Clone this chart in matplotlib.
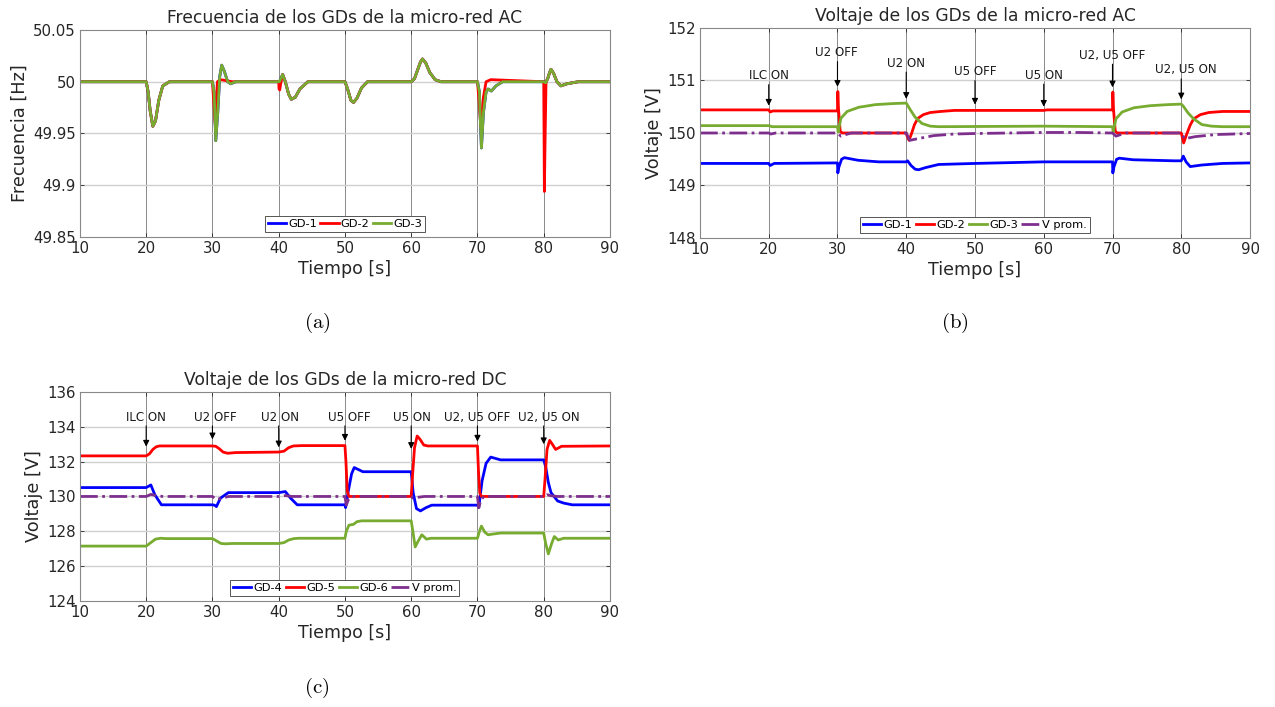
import numpy as np
import matplotlib
matplotlib.use('Agg')
import matplotlib.pyplot as plt

plt.rcParams['font.family'] = ['DejaVu Sans']
plt.rcParams['mathtext.fontset'] = 'cm'

##########################
# (a) Frecuencia micro-red AC
##########################
ta_gd3 = [10, 20, 20.3, 20.6, 21.0, 21.4, 21.9, 22.5, 23.5,
          30.0, 30.25, 30.5, 30.8, 31.1, 31.4, 31.8, 32.3, 32.75, 33.5,
          40.0, 40.1, 40.6, 41.0, 41.5, 41.9, 42.5, 43.2, 44.4,
          50.0, 50.4, 50.9, 51.3, 51.8, 52.5, 53.4,
          60.0, 60.5, 61.0, 61.4, 61.7, 62.2, 62.8, 63.6, 64.5,
          70.0, 70.3, 70.45, 70.6, 70.9, 71.3, 71.6, 72.1, 72.8, 73.8,
          80.0, 80.3, 80.6, 80.9, 81.1, 81.5, 82.0, 82.6, 83.5, 85.2, 90]
fa_gd3 = [50, 50, 49.99, 49.972, 49.957, 49.962, 49.982, 49.996, 50.0,
          50.0, 49.99, 49.943, 49.97, 50.005, 50.016, 50.01, 50.0, 49.998, 50.0,
          50.0, 50.0, 50.007, 50.0, 49.988, 49.983, 49.985, 49.993, 50.0,
          50.0, 49.993, 49.982, 49.980, 49.984, 49.994, 50.0,
          50.0, 50.003, 50.012, 50.019, 50.022, 50.018, 50.009, 50.002, 50.0,
          50.0, 49.99, 49.96, 49.936, 49.97, 49.99, 49.993, 49.991, 49.996, 50.0,
          50.0, 49.999, 50.003, 50.009, 50.012, 50.008, 50.0, 49.996, 49.998, 50.0, 50.0]
ta_gd1 = list(ta_gd3)
fa_gd1 = list(fa_gd3)
ta_gd2 = [10, 20, 20.3, 20.6, 21.0, 21.4, 21.9, 22.5, 23.5,
          30.0, 30.15, 30.4, 30.75, 31.2, 33.0,
          40.0, 40.05, 40.15, 40.3, 40.6, 41.0, 41.5, 41.9, 42.5, 43.2, 44.4,
          50.0, 50.4, 50.9, 51.3, 51.8, 52.5, 53.4,
          60.0, 60.5, 61.0, 61.4, 61.7, 62.2, 62.8, 63.6, 64.5,
          70.0, 70.2, 70.5, 70.9, 71.3, 72.0,
          80.0, 80.05, 80.1, 80.2, 80.35, 80.6, 80.9, 81.1, 81.5, 82.0, 82.6, 83.5, 85.2, 90]
fa_gd2 = [50, 50, 49.99, 49.972, 49.957, 49.962, 49.982, 49.996, 50.0,
          50.0, 49.985, 49.960, 50.0, 50.002, 50.0,
          50.0, 49.993, 49.992, 49.998, 50.007, 50.0, 49.988, 49.983, 49.985, 49.993, 50.0,
          50.0, 49.993, 49.982, 49.980, 49.984, 49.994, 50.0,
          50.0, 50.003, 50.012, 50.019, 50.022, 50.018, 50.009, 50.002, 50.0,
          50.0, 49.985, 49.957, 49.985, 50.0, 50.002,
          50.0, 49.95, 49.894, 49.94, 50.0, 50.003, 50.009, 50.012, 50.008, 50.0, 49.996, 49.998, 50.0, 50.0]

##########################
# (b) Voltaje micro-red AC
##########################
tb_gd1 = [10, 20, 20.2, 20.8, 30.0, 30.05, 30.2, 30.6, 31.0, 33.0, 36.0, 40.0, 40.2, 40.7, 41.3, 41.8,
          42.8, 44.7, 50.0, 60.0, 70.0, 70.05, 70.2, 70.6, 71.0, 73.0, 79.0, 80.0, 80.3, 80.7, 81.3, 83.0, 86.0, 90]
vb_gd1 = [149.42, 149.42, 149.38, 149.42, 149.43, 149.24, 149.35, 149.50, 149.53, 149.48, 149.45, 149.45, 149.47,
          149.38, 149.31, 149.30, 149.34, 149.40, 149.42, 149.45, 149.45, 149.24, 149.35, 149.50, 149.52, 149.49,
          149.47, 149.47, 149.56, 149.45, 149.36, 149.39, 149.42, 149.43]
tb_gd2 = [10, 20, 20.2, 20.6, 30.0, 30.05, 30.15, 30.4, 30.7, 40.0, 40.1, 40.4, 40.8, 41.2, 41.7, 42.5, 43.5,
          45.0, 47.0, 50.0, 60.0, 60.5, 70.0, 70.05, 70.15, 70.4, 70.7, 80.0, 80.1, 80.35, 80.8, 81.3, 81.8,
          82.8, 84.0, 86.0, 90]
vb_gd2 = [150.44, 150.44, 150.40, 150.42, 150.42, 150.79, 150.45, 150.03, 150.0, 150.0, 149.95, 149.86, 150.0,
          150.16, 150.28, 150.35, 150.39, 150.41, 150.43, 150.43, 150.43, 150.44, 150.44, 150.78, 150.45,
          150.03, 150.0, 150.0, 149.95, 149.81, 149.98, 150.15, 150.27, 150.35, 150.39, 150.41, 150.41]
tb_gd3 = [10, 20, 20.5, 30.0, 30.1, 30.5, 31.4, 33.1, 35.5, 38.0, 40.0, 40.6, 41.3, 42.3, 43.5, 44.7, 60.0,
          70.0, 70.1, 70.5, 71.4, 73.1, 75.5, 78.0, 80.0, 80.3, 81.0, 81.8, 83.0, 84.4, 86.0, 90]
vb_gd3 = [150.14, 150.14, 150.12, 150.12, 150.02, 150.28, 150.41, 150.49, 150.54, 150.56, 150.57, 150.44,
          150.30, 150.18, 150.13, 150.12, 150.13, 150.12, 150.02, 150.27, 150.40, 150.48, 150.52, 150.54,
          150.55, 150.51, 150.38, 150.27, 150.16, 150.13, 150.12, 150.12]
tb_vprom = [10, 20, 20.3, 21.0, 30.0, 30.5, 31.2, 32.0, 40.0, 40.5, 42.0, 44.0, 47.0, 50.0, 60.0, 65.0,
            70.0, 70.5, 71.2, 72.0, 80.0, 80.5, 82.0, 85.0, 90]
vb_vprom = [150.0, 150.0, 149.98, 150.0, 150.0, 149.94, 149.97, 150.0, 150.0, 149.86, 149.90, 149.95,
            149.98, 149.99, 150.01, 150.01, 150.0, 149.94, 149.97, 150.0, 150.0, 149.89, 149.93, 149.97, 149.99]

##########################
# (c) Voltaje micro-red DC
##########################
tc_gd4 = [10, 20.0, 20.7, 21.3, 22.3, 30.0, 30.3, 30.6, 31.2, 32.4, 40.0, 41.0, 41.8, 42.8, 50.0, 50.1,
          50.5, 51.0, 51.4, 52.0, 52.7, 60.0, 60.3, 60.8, 61.4, 62.2, 63.1, 70.0, 70.2, 70.7, 71.3, 72.0,
          73.5, 80.0, 80.3, 80.7, 81.1, 82.1, 83.0, 84.3, 90]
vc_gd4 = [130.51, 130.51, 130.66, 130.1, 129.52, 129.52, 129.5, 129.42, 129.9, 130.22, 130.22, 130.28,
          129.9, 129.52, 129.52, 129.36, 130.3, 131.3, 131.66, 131.55, 131.42, 131.42, 130.2, 129.3, 129.17,
          129.35, 129.5, 129.5, 129.38, 130.9, 131.9, 132.26, 132.1, 132.1, 131.7, 130.8, 130.22, 129.74,
          129.62, 129.52, 129.52]
tc_gd5 = [10, 20.0, 20.5, 21.0, 21.5, 22.0, 23.0, 30.0, 30.5, 31.0, 31.6, 32.3, 33.5, 40.0, 40.8, 41.5,
          42.2, 43.5, 50.0, 50.15, 50.35, 50.6, 60.0, 60.2, 60.5, 60.9, 61.3, 61.9, 62.5, 70.0, 70.15, 70.35,
          70.6, 80.0, 80.2, 80.5, 80.9, 81.3, 81.8, 82.7, 90]
vc_gd5 = [132.33, 132.33, 132.45, 132.7, 132.85, 132.9, 132.9, 132.9, 132.88, 132.75, 132.55, 132.48,
          132.52, 132.55, 132.6, 132.8, 132.9, 132.92, 132.92, 132.0, 130.3, 130.0, 130.0, 131.2, 132.8,
          133.47, 133.3, 132.95, 132.9, 132.9, 131.5, 130.2, 130.0, 130.0, 131.0, 132.7, 133.22, 133.0,
          132.7, 132.88, 132.9]
tc_gd6 = [10, 20.0, 20.7, 21.4, 22.2, 23.0, 30.0, 30.6, 31.3, 32.0, 33.0, 40.0, 40.8, 41.5, 42.3, 43.0,
          50.0, 50.2, 50.6, 51.3, 51.8, 52.5, 60.0, 60.25, 60.6, 61.0, 61.6, 62.3, 63.0, 70.0, 70.3, 70.6,
          71.1, 71.6, 72.5, 73.5, 80.0, 80.3, 80.7, 81.2, 81.6, 82.2, 83.0, 90]
vc_gd6 = [127.15, 127.15, 127.35, 127.55, 127.6, 127.58, 127.58, 127.45, 127.3, 127.28, 127.3, 127.3,
          127.35, 127.5, 127.58, 127.6, 127.6, 128.0, 128.35, 128.4, 128.55, 128.6, 128.6, 128.0, 127.1,
          127.4, 127.8, 127.55, 127.6, 127.6, 128.0, 128.3, 127.95, 127.8, 127.85, 127.9, 127.9, 127.3,
          126.7, 127.3, 127.7, 127.5, 127.6, 127.6]
tc_vprom = [10, 20.0, 20.7, 21.5, 22.5, 30.0, 30.6, 31.5, 32.5, 40.0, 41.0, 42.0, 50.0, 50.2, 50.5, 51.0,
            60.0, 60.3, 61.0, 62.0, 70.0, 70.2, 70.5, 71.0, 80.0, 80.5, 81.0, 82.0, 90]
vc_vprom = [130.0, 130.0, 130.12, 130.05, 130.0, 130.0, 129.82, 129.92, 130.0, 130.0, 130.05, 130.0, 130.0,
            129.5, 129.8, 130.0, 130.0, 129.9, 129.95, 130.0, 130.0, 129.35, 129.8, 130.0, 130.0, 130.1,
            130.05, 130.0, 130.0]

# events (annotations)
ev_labels = ['ILC ON', 'U2 OFF', 'U2 ON', 'U5 OFF', 'U5 ON', 'U2, U5 OFF', 'U2, U5 ON']
ev_t = [20, 30, 40, 50, 60, 70, 80]
# (b) label placement / arrow tips
b_text_x = [20, 29.8, 40, 50, 60, 70, 80.6]
b_text_y = [151.09, 151.53, 151.33, 151.17, 151.10, 151.48, 151.20]
b_tip_y = [150.52, 150.88, 150.65, 150.54, 150.50, 150.87, 150.64]
# (c)
c_text_x = [20, 30.5, 40.2, 50.6, 60.15, 70, 80.8]
c_text_y = [134.55] * 7
c_tip_y = [132.86, 133.28, 132.82, 133.2, 132.73, 133.15, 133.0]

###############
# Plot style
###############
BLUE = '#0000ff'
RED = '#ff0000'
GREEN = '#77ac30'
PURPLE = '#7e2f8e'
LW = 2.0

fig = plt.figure(figsize=(12.75, 7.07), dpi=100)
ax_a = fig.add_axes([0.0627, 0.6648, 0.4157, 0.2928])
ax_b = fig.add_axes([0.5490, 0.6634, 0.4314, 0.2970])
ax_c = fig.add_axes([0.0627, 0.1500, 0.4157, 0.2956])


def style_axes(ax, title, ylabel, ylim, yticks, yfmt):
    ax.set_xlim(10, 90)
    ax.set_ylim(*ylim)
    ax.set_xticks(range(10, 91, 10))
    ax.set_yticks(yticks)
    ax.set_yticklabels([yfmt(v) for v in yticks])
    ax.tick_params(direction='in', top=True, right=True, length=3, width=0.6,
                   labelsize=10.8, colors='#262626', pad=3)
    for s in ax.spines.values():
        s.set_color('#888888')
        s.set_linewidth(0.8)
    for x in range(20, 90, 10):
        ax.axvline(x, color='#8a8a8a', lw=0.7, zorder=0.5)
    for y in yticks[1:-1]:
        ax.axhline(y, color='#d0d0d0', lw=1.0, zorder=0.5)
    ax.set_title(title, fontsize=12.3, pad=5, color='#262626')
    ax.set_xlabel('Tiempo [s]', fontsize=12.5, labelpad=3, color='#262626')
    ax.set_ylabel(ylabel, fontsize=12.8, labelpad=3, color='#262626')


def add_legend(ax):
    lg = ax.legend(loc='lower center', ncol=4, fontsize=8.2, handlelength=1.6,
                   handletextpad=0.2, columnspacing=0.3, borderpad=0.25,
                   borderaxespad=0.45, fancybox=False, framealpha=1)
    lg.get_frame().set_edgecolor('#555555')
    lg.get_frame().set_linewidth(0.7)


def add_events(ax, tx, ty, tip, gap):
    for lab, t, x, y, yt in zip(ev_labels, ev_t, tx, ty, tip):
        ax.text(x, y, lab, ha='center', va='center', fontsize=8.6, color='#1a1a1a')
        ax.annotate('', xy=(t, yt), xytext=(t, y - gap),
                    arrowprops=dict(arrowstyle='-|>', color='black', lw=0.8,
                                    mutation_scale=9, shrinkA=0, shrinkB=0))


# (a)
ax_a.plot(ta_gd1, fa_gd1, color=BLUE, lw=LW, label='GD-1')
ax_a.plot(ta_gd2, fa_gd2, color=RED, lw=LW, label='GD-2')
ax_a.plot(ta_gd3, fa_gd3, color=GREEN, lw=LW, label='GD-3')
style_axes(ax_a, 'Frecuencia de los GDs de la micro-red AC', 'Frecuencia [Hz]',
           (49.85, 50.05), [49.85, 49.9, 49.95, 50.0, 50.05], lambda v: ('%g' % v))
add_legend(ax_a)

# (b)
ax_b.plot(tb_gd1, vb_gd1, color=BLUE, lw=LW, label='GD-1')
ax_b.plot(tb_gd2, vb_gd2, color=RED, lw=LW, label='GD-2')
ax_b.plot(tb_gd3, vb_gd3, color=GREEN, lw=LW, label='GD-3')
ax_b.plot(tb_vprom, vb_vprom, color=PURPLE, lw=LW, ls='-.', label='V prom.')
style_axes(ax_b, 'Voltaje de los GDs de la micro-red AC', 'Voltaje [V]',
           (148, 152), [148, 149, 150, 151, 152], lambda v: '%d' % v)
add_legend(ax_b)
add_events(ax_b, b_text_x, b_text_y, b_tip_y, 0.17)

# (c)
ax_c.plot(tc_gd4, vc_gd4, color=BLUE, lw=LW, label='GD-4')
ax_c.plot(tc_gd5, vc_gd5, color=RED, lw=LW, label='GD-5')
ax_c.plot(tc_gd6, vc_gd6, color=GREEN, lw=LW, label='GD-6')
ax_c.plot(tc_vprom, vc_vprom, color=PURPLE, lw=LW, ls='-.', label='V prom.')
style_axes(ax_c, 'Voltaje de los GDs de la micro-red DC', 'Voltaje [V]',
           (124, 136), list(range(124, 137, 2)), lambda v: '%d' % v)
add_legend(ax_c)
add_events(ax_c, c_text_x, c_text_y, c_tip_y, 0.5)

# captions
fig.text(0.249, 0.543, r'$\mathrm{(a)}$', ha='center', va='center', fontsize=15)
fig.text(0.749, 0.543, r'$\mathrm{(b)}$', ha='center', va='center', fontsize=15)
fig.text(0.248, 0.027, r'$\mathrm{(c)}$', ha='center', va='center', fontsize=15)

plt.savefig('out.png', dpi=100)
